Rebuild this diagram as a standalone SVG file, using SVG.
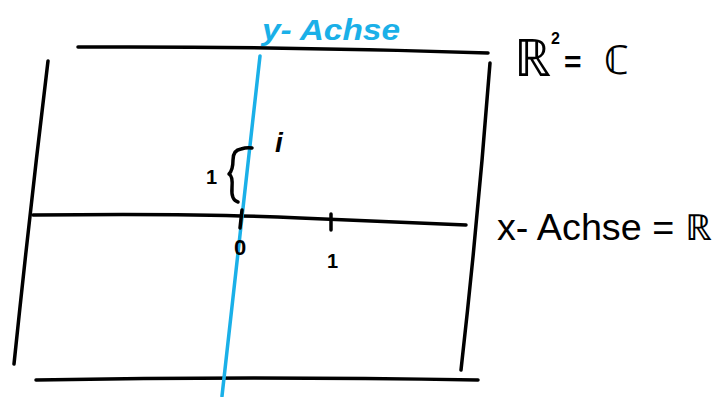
<svg xmlns="http://www.w3.org/2000/svg" width="718" height="397" viewBox="0 0 718 397">
<style>
.ln{fill:none;stroke:#000;stroke-width:3.5;stroke-linecap:round;stroke-linejoin:round}
.ax{fill:none;stroke:#1ab0e8;stroke-width:3.5;stroke-linecap:round}
.t{font-family:"Liberation Sans",Arial,sans-serif;fill:#000}
.tb{font-family:"Liberation Sans",Arial,sans-serif;fill:#1ab0e8;font-weight:bold}
</style>
<rect width="718" height="397" fill="#fff"/>
<g id="grid">
<path class="ln" d="M78,47 Q280,46 488,53"/>
<path class="ln" d="M48,61 Q30,210 14,364"/>
<path class="ln" d="M490,63 Q478,220 461,370"/>
<path class="ln" d="M33,215 Q200,213 300,218 Q400,222 466,225"/>
<path class="ln" d="M36,380 Q250,376 478,380"/>
</g>
<g id="connectors">
<path class="ax" d="M260,56 L222,396"/>
</g>
<g id="ticks">
<path class="ln" d="M242,210 L240,228"/>
<path class="ln" d="M331,214 L331,230"/>
<path class="ln" d="M252,148 Q247,147 241,149 Q233,150 233,160 Q233,170 229,174 Q233,176 232,188 Q231,200 238,202"/>
</g>
<g id="labels">
<text class="tb" x="262" y="40" font-size="30" font-style="italic" textLength="138" lengthAdjust="spacingAndGlyphs">y- Achse</text>
<text class="t" x="514" y="76" font-size="52">ℝ</text>
<text class="t" x="551" y="44" font-size="16" font-weight="bold">2</text>
<text class="t" x="564" y="72" font-size="30" font-weight="bold">=</text>
<text class="t" x="604" y="74" font-size="40">ℂ</text>
<text class="t" x="497" y="240" font-size="36" textLength="215" lengthAdjust="spacingAndGlyphs">x- Achse = ℝ</text>
<text class="t" x="206" y="184" font-size="20" font-weight="bold">1</text>
<text class="t" x="275" y="152" font-size="28" font-style="italic" font-weight="bold">i</text>
<text class="t" x="234" y="255" font-size="22" font-weight="bold">0</text>
<text class="t" x="327" y="268" font-size="20" font-weight="bold">1</text>
</g>
</svg>
